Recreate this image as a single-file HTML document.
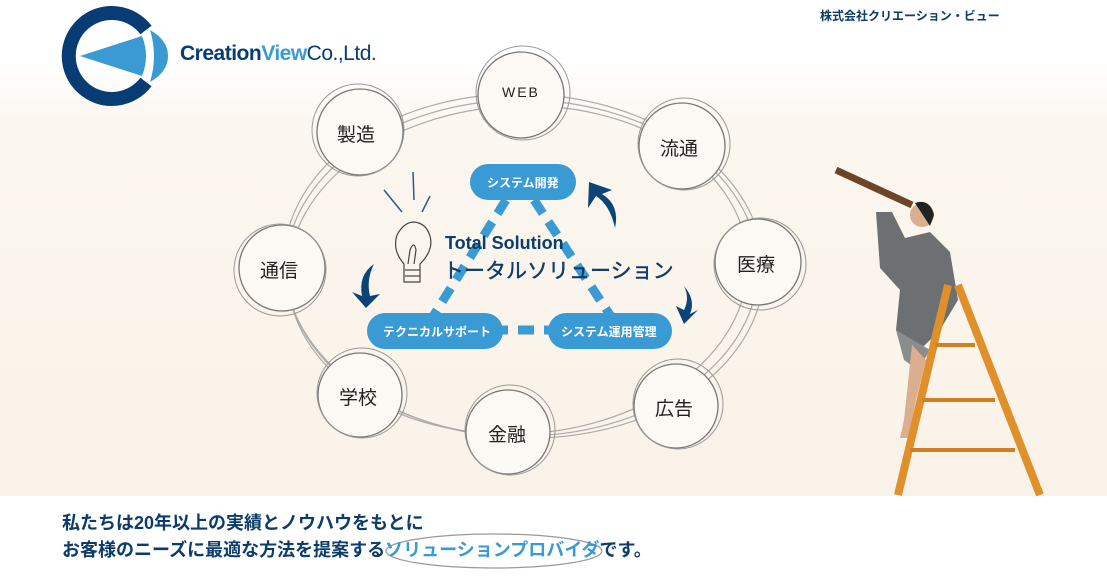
<!DOCTYPE html>
<html><head><meta charset="utf-8"><style>
body{margin:0;width:1107px;height:582px;overflow:hidden;background:#fff;font-family:"Liberation Sans","Noto Sans CJK JP",sans-serif;position:relative}
.bg{position:absolute;left:0;top:60px;width:1107px;height:436px;background:linear-gradient(180deg,#fff 0%,#fbf6ef 15%,#f9f2e8 100%)}
.t{position:absolute;white-space:nowrap}
</style></head><body>
<div class="bg"></div>
<svg width="1107" height="582" style="position:absolute;left:0;top:0">
<!-- logo -->
<path d="M146 30 A43 43 0 1 0 146 82" fill="none" stroke="#073d74" stroke-width="14"/>
<polygon points="80,56 142,36 142,76" fill="#3a9ad3"/>
<path d="M142 36 Q150 56 142 76 Z" fill="#3a9ad3"/>
<path d="M150 30 Q168 40 168 56 Q168 72 150 82 Q158 56 150 30Z" fill="#3a9ad3"/>
<!-- big ellipses -->
<g fill="none" stroke="#999" stroke-width="1.2" opacity="0.8">
<ellipse cx="522" cy="268" rx="236" ry="168"/>
<ellipse cx="518" cy="270" rx="230" ry="164" transform="rotate(-3 518 270)"/>
<ellipse cx="524" cy="266" rx="240" ry="172" transform="rotate(2 524 266)"/>
</g>
<g fill="#fcf8f3" stroke="#777" stroke-width="1.3">
<circle cx="521" cy="95" r="43"/><circle cx="360" cy="132" r="43"/><circle cx="682" cy="146" r="43"/>
<circle cx="282" cy="268" r="43"/><circle cx="758" cy="262" r="43"/><circle cx="360" cy="395" r="42"/>
<circle cx="508" cy="432" r="42"/><circle cx="676" cy="406" r="42"/>
</g>
<g fill="none" stroke="#999" stroke-width="1">
<circle cx="523" cy="93" r="47"/><circle cx="358" cy="130" r="46"/><circle cx="684" cy="144" r="46"/>
<circle cx="280" cy="270" r="46"/><circle cx="760" cy="264" r="46"/><circle cx="362" cy="393" r="45"/>
<circle cx="510" cy="430" r="45"/><circle cx="678" cy="404" r="45"/>
</g>
<!-- dashes -->
<g stroke="#3a9ad3" stroke-width="9" stroke-dasharray="16 10">
<line x1="506" y1="200" x2="432" y2="318"/><line x1="534" y1="200" x2="612" y2="318"/><line x1="492" y1="330" x2="552" y2="330"/>
</g>
<!-- pills -->
<rect x="470" y="164" width="106" height="36" rx="18" fill="#3a9ad3"/>
<rect x="367" y="313" width="136" height="36" rx="18" fill="#3a9ad3"/>
<rect x="548" y="313" width="124" height="36" rx="18" fill="#3a9ad3"/>
<!-- arrows -->
<g fill="#0c4478">
<path d="M615 228 Q610 205 596 196 L588 208 L589 182 L612 190 L602 194 Q620 205 615 228Z"/>
<path d="M374 264 Q358 275 362 296 L352 292 L366 308 L380 294 L370 296 Q366 280 374 264Z"/>
<path d="M684 286 Q696 300 690 314 L698 310 L684 324 L676 306 L684 310 Q690 298 684 286Z"/>
</g>
<!-- bulb -->
<g fill="none" stroke="#444" stroke-width="1.2">
<path d="M404 264 Q392 250 397 235 Q404 222 414 222 Q426 223 430 236 Q434 250 420 264 L420 282 L404 282Z"/>
<line x1="405" y1="270" x2="420" y2="270"/><line x1="405" y1="276" x2="420" y2="276"/>
<path d="M408 264 L410 250 Q414 240 416 250 L414 264"/>
</g>
<g stroke="#2b5a8a" stroke-width="1.5"><line x1="413" y1="172" x2="414" y2="200"/><line x1="384" y1="190" x2="402" y2="212"/><line x1="430" y1="196" x2="422" y2="212"/></g>
<!-- person/ladder -->
<g>
<line x1="836" y1="170" x2="912" y2="205" stroke="#6b4525" stroke-width="7"/>
<path d="M876 212 L880 268 L900 290 L896 330 L920 350 L940 330 L958 300 L950 252 L930 232 L905 238 L892 212Z" fill="#6d7072"/>
<circle cx="922" cy="215" r="12" fill="#d9ae93"/>
<path d="M915 203 Q930 198 934 215 L930 226 Z" fill="#222"/>
<path d="M896 330 L930 350 L918 370 L904 360Z" fill="#8a8c8e"/>
<path d="M912 345 L904 420 L900 438 L908 438 L916 400 L926 360Z" fill="#dcae90"/>
<g stroke="#e0902a" stroke-width="8" fill="none">
<line x1="948" y1="285" x2="898" y2="495"/><line x1="958" y1="285" x2="1040" y2="495"/>
</g>
<g stroke="#d08020" stroke-width="4"><line x1="935" y1="345" x2="975" y2="345"/><line x1="922" y1="400" x2="995" y2="400"/><line x1="910" y1="450" x2="1015" y2="450"/></g>
</g>
<ellipse cx="494" cy="551" rx="108" ry="17" fill="none" stroke="#999" stroke-width="1.2"/>
</svg>
<div class="t" style="left:180px;top:42px;font-size:21px;font-weight:bold;color:#073d74;letter-spacing:-0.5px">Creation<span style="color:#3a9ad3">View</span><span style="font-weight:normal">Co.,Ltd.</span></div>
<div class="t" style="left:820px;top:7px;font-size:12px;font-weight:bold;color:#0c3c6a">株式会社クリエーション・ビュー</div>
<div class="t" style="left:502px;top:84px;font-size:14px;color:#222;letter-spacing:2px">WEB</div>
<div class="t" style="left:337px;top:120px;font-size:19px;color:#222">製造</div>
<div class="t" style="left:660px;top:134px;font-size:19px;color:#222">流通</div>
<div class="t" style="left:260px;top:256px;font-size:19px;color:#222">通信</div>
<div class="t" style="left:737px;top:250px;font-size:19px;color:#222">医療</div>
<div class="t" style="left:339px;top:383px;font-size:19px;color:#222">学校</div>
<div class="t" style="left:488px;top:420px;font-size:19px;color:#222">金融</div>
<div class="t" style="left:655px;top:394px;font-size:19px;color:#222">広告</div>
<div class="t" style="left:487px;top:174px;font-size:12px;font-weight:bold;color:#fff">システム開発</div>
<div class="t" style="left:383px;top:323px;font-size:12px;font-weight:bold;color:#fff">テクニカルサポート</div>
<div class="t" style="left:561px;top:323px;font-size:12px;font-weight:bold;color:#fff">システム運用管理</div>
<div class="t" style="left:445px;top:233px;font-size:18px;font-weight:bold;color:#0c3c6a">Total Solution</div>
<div class="t" style="left:443px;top:255px;font-size:21px;color:#0c3c6a;-webkit-text-stroke:0.4px #0c3c6a">トータルソリューション</div>
<div class="t" style="left:62px;top:510px;font-size:18px;font-weight:bold;color:#0c3c6a;line-height:27px">私たちは20年以上の実績とノウハウをもとに<br>お客様のニーズに最適な方法を提案する<span style="color:#3a9ad3">ソリューションプロバイダ</span>です。</div>
</body></html>
